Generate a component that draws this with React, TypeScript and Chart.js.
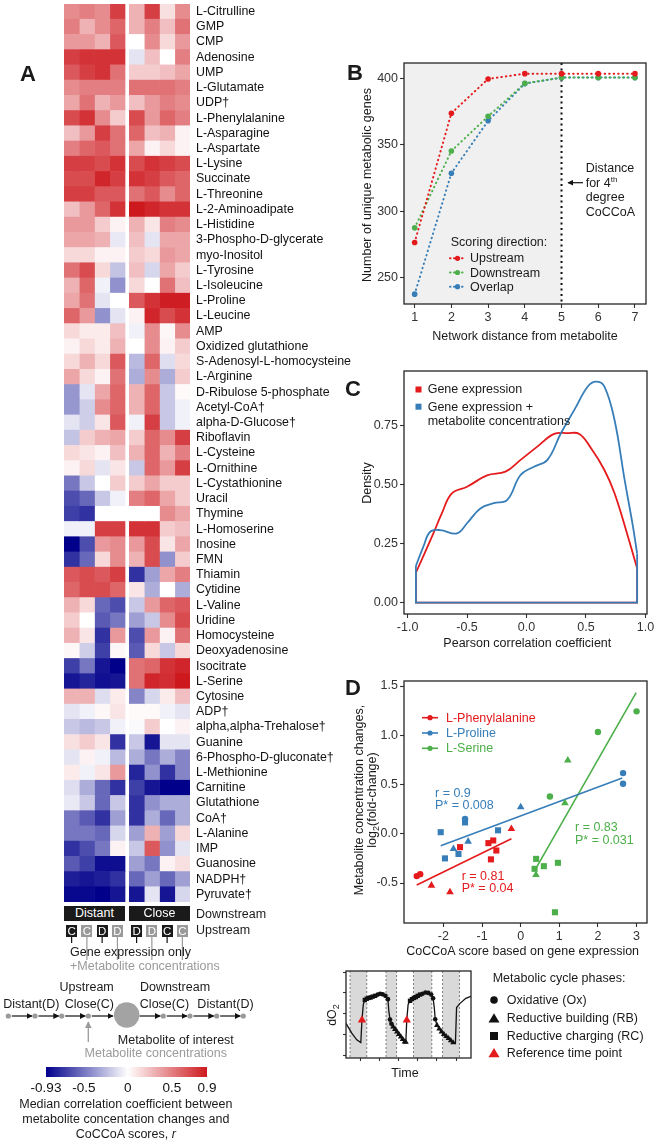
import React, { useEffect, useRef } from "react";
import { Chart, registerables } from "chart.js";

Chart.register(...registerables);

const FONT = "'Liberation Sans', Arial, Helvetica, sans-serif";
Chart.defaults.font.family = FONT;
Chart.defaults.color = "#1a1a1a";

const RED = "#e41a1c";
const BLUE = "#377eb8";
const GREEN = "#4daf4a";
const GRAY = "#9a9a9a";

// ---------------- Panel A: heatmap ----------------
const metabolites = [
  "L-Citrulline", "GMP", "CMP", "Adenosine", "UMP", "L-Glutamate", "UDP†", "L-Phenylalanine", "L-Asparagine", "L-Aspartate",
  "L-Lysine", "Succinate", "L-Threonine", "L-2-Aminoadipate", "L-Histidine", "3-Phospho-D-glycerate", "myo-Inositol", "L-Tyrosine", "L-Isoleucine", "L-Proline",
  "L-Leucine", "AMP", "Oxidized glutathione", "S-Adenosyl-L-homocysteine", "L-Arginine", "D-Ribulose 5-phosphate", "Acetyl-CoA†", "alpha-D-Glucose†", "Riboflavin", "L-Cysteine",
  "L-Ornithine", "L-Cystathionine", "Uracil", "Thymine", "L-Homoserine", "Inosine", "FMN", "Thiamin", "Cytidine", "L-Valine",
  "Uridine", "Homocysteine", "Deoxyadenosine", "Isocitrate", "L-Serine", "Cytosine", "ADP†", "alpha,alpha-Trehalose†", "Guanine", "6-Phospho-D-gluconate†",
  "L-Methionine", "Carnitine", "Glutathione", "CoA†", "L-Alanine", "IMP", "Guanosine", "NADPH†", "Pyruvate†",
];

// Downstream distant / upstream close, gene expression only ... etc.
const distC_gene = [.45,.5,.4,.75,.65,.45,.35,.7,.25,.5, .75,.7,.75,.25,.4,.35,.15,.55,.3,.35, .6,.15,.05,.15,.35,-.38,-.38,-.1,-.22,.15, .05,-.5,-.65,-.7,-.05,-.93,-.75,.65,.6,.3, .2,.3,.03,-.7,-.85,.3,-.1,-.2,.12,-.1, .08,-.12,-.08,-.5,-.5,-.75,-.6,-.82,-.9];
const distC_met = [.5,.3,.4,.8,.75,.5,.55,.8,.4,.6, .75,.7,.75,.4,.4,.35,.15,.7,.6,.55, .4,.08,.15,.3,.15,-.1,-.18,-.18,.2,.1, .15,-.2,-.55,-.75,-.05,-.65,-.55,.7,.7,.15, 0,.1,-.18,-.5,-.8,.3,-.05,-.25,.2,.05, -.05,-.3,-.2,-.6,-.5,-.65,-.7,-.85,-.9];
const distD_gene = [.45,.45,.3,.8,.8,.5,.3,.45,.75,.65, .7,.85,.65,.6,.2,.3,.05,.15,-.05,-.1, -.4,.08,.08,.15,.05,.35,.45,.1,.3,.05, -.1,0,-.2,null,.75,.4,.15,.65,.7,-.55, -.6,-.75,-.7,-.85,-.87,-.12,.03,-.2,.1,-.05, .1,-.55,-.55,-.75,-.55,-.5,-.88,-.82,-.93];
const distD_met = [.75,.6,.65,.8,.55,.5,.4,.2,.55,.55, .8,.75,.65,.8,.05,-.08,.05,-.22,-.4,0, -.1,.25,.3,.65,.55,.6,.6,.65,.35,.25, .1,.2,-.05,null,.75,.45,.45,.75,.6,-.65, -.5,.4,.03,-.93,-.85,.08,.1,-.05,-.75,-.25, .4,-.75,-.2,-.35,-.15,.05,-.88,-.75,-.85];
const closeD_gene = [.3,.3,0,-.1,.2,.55,.25,.7,.6,.35, .7,.8,.55,.9,.3,.25,.2,.25,.15,.65, .05,-.05,0,-.25,-.3,.3,.3,-.05,.2,.3, -.2,.2,.5,null,.8,.4,.3,-.75,.1,-.2, -.35,-.65,-.6,.55,.55,-.45,.02,-.02,-.2,-.3, -.8,-.7,-.75,-.75,-.35,-.2,-.35,-.55,-.85];
const closeD_met = [.75,.5,.45,.25,.2,.55,.4,.4,.25,.05, .8,.75,.65,.85,.1,-.1,.15,-.15,0,.8, .85,.45,.45,.6,.45,.6,.6,.75,.6,.6, .6,.35,.6,null,.8,.7,.7,-.35,-.3,.4, -.2,.4,.15,.6,.85,-.15,.02,.2,-.85,-.5, -.4,-.85,-.4,-.3,.3,.65,-.5,-.35,-.1];
const closeC_gene = [.12,.25,.15,0,.25,.55,.5,.6,.3,.15, .75,.65,.45,.8,.5,.35,.4,.35,.55,.88, .7,.03,.05,-.12,-.3,-.2,-.2,-.2,.45,.3, .4,.2,.35,.45,.2,.1,-.4,.35,0,.6, .45,.05,-.2,.8,.82,.08,-.05,0,-.1,-.3, -.75,-.93,-.3,-.55,-.35,-.4,.05,-.55,-.85];
const closeC_met = [.45,.55,.4,.5,.35,.5,.45,.5,.05,.05, .7,.6,.6,.8,.45,.35,.35,.2,.25,.88, .8,.45,.2,.15,.2,.02,-.05,-.05,.75,.5, .75,.2,.2,.35,.25,.35,.2,.5,-.3,.65, .7,.55,.15,.85,.9,.25,-.1,.05,-.1,-.45, -.45,-.93,-.3,-.3,.15,-.1,.12,-.35,-.15];

const downstreamGroups = ["Distant", "Close"];
const upstreamCodes = ["C", "C", "D", "D", "D", "D", "C", "C"];
const upstreamIsGeneOnly = [true, false, true, false, true, false, true, false];

const colorbarMin = -0.93;
const colorbarMax = 0.9;
const colorbarTicks = [-0.93, -0.5, 0, 0.5, 0.9];

// ---------------- Panel B ----------------
const distances = [1, 2, 3, 4, 5, 6, 7];
const upstreamGenes = [276.5, 373.7, 399.5, 403.5, 403.5, 403.5, 403.5];
const downstreamGenes = [287.5, 345.3, 371.4, 396.2, 400.5, 400.5, 400.5];
const overlapGenes = [237.6, 328.6, 368.0, 396.0, 400.5, 400.5, 400.5];
const bYTicks = [250, 300, 350, 400];
const cocoaDistance = 5;

// ---------------- Panel C ----------------
const geneX = [-0.93, -0.783, -0.712, -0.628, -0.5, -0.332, -0.177, -0.05, 0.091, 0.232, 0.345, 0.444, 0.543, 0.655, 0.74, 0.853, 0.93];
const geneY = [0.127, 0.294, 0.379, 0.464, 0.492, 0.54, 0.556, 0.606, 0.662, 0.716, 0.719, 0.716, 0.655, 0.563, 0.464, 0.28, 0.146];
const geneMetX = [-0.93, -0.867, -0.81, -0.726, -0.585, -0.5, -0.388, -0.275, -0.162, -0.05, 0.063, 0.176, 0.289, 0.402, 0.515, 0.585, 0.655, 0.74, 0.825, 0.895, 0.93];
const geneMetY = [0.156, 0.238, 0.301, 0.308, 0.294, 0.337, 0.4, 0.422, 0.436, 0.542, 0.577, 0.606, 0.719, 0.818, 0.917, 0.938, 0.917, 0.775, 0.521, 0.323, 0.209];
const cXTicks = [-1, -0.5, 0, 0.5, 1];
const cYTicks = [0, 0.25, 0.5, 0.75];

// ---------------- Panel D ----------------
const pheX = [-2.69, -2.6, -2.31, -1.83, -0.24, -1.57, -0.835, -0.71, -0.63, -0.77];
const pheY = [-0.43, -0.41, -0.525, -0.593, 0.05, -0.136, -0.095, -0.068, -0.17, -0.26];
const pheShape = ["circle", "circle", "triangle", "triangle", "triangle", "rect", "rect", "rect", "rect", "rect"];
const proX = [-2.07, -1.96, -1.61, -0.586, -1.44, -1.44, -1.74, -1.36, 0.0, 2.65, 2.65];
const proY = [0.016, -0.25, -0.205, 0.035, 0.115, 0.15, -0.153, -0.078, 0.27, 0.616, 0.508];
const proShape = ["rect", "rect", "rect", "rect", "rect", "circle", "triangle", "triangle", "triangle", "circle", "circle"];
const serX = [0.757, 2.0, 3.0, 1.22, 1.145, 0.396, 0.4, 0.36, 0.6, 0.964, 0.887];
const serY = [0.379, 1.033, 1.243, 0.745, 0.311, -0.417, -0.255, -0.356, -0.329, -0.295, -0.797];
const serShape = ["circle", "circle", "circle", "triangle", "triangle", "triangle", "rect", "rect", "rect", "rect", "rect"];
const pheFitX = [-2.69, -0.24];
const pheFitY = [-0.52, -0.05];
const proFitX = [-2.07, 2.63];
const proFitY = [-0.122, 0.565];
const serFitX = [0.388, 2.99];
const serFitY = [-0.356, 1.433];
const dXTicks = [-2, -1, 0, 1, 2, 3];
const dYTicks = [-0.5, 0, 0.5, 1, 1.5];

// ---------------- Inset: dO2 trace ----------------
const insetTime = [0.27, 0.57, 0.83, 1.04, 1.1, 1.17, 1.25, 1.35, 1.45, 1.55, 1.65, 1.78, 1.92, 2.05, 2.18, 2.32, 2.45, 2.5, 2.56, 2.63, 2.72, 2.82, 2.92, 3.02, 3.12, 3.22, 3.32, 3.38, 3.43, 3.5, 3.6, 3.7, 3.8, 3.9, 4.0, 4.12, 4.25, 4.4, 4.55, 4.7, 4.8, 4.86, 4.91, 5.0, 5.12, 5.24, 5.36, 5.48, 5.6, 5.72, 5.84, 5.96, 6.02, 6.2, 6.5, 6.77];
const insetDO2 = [1.54, 1.07, 0.75, 0.62, 1.7, 2.45, 2.66, 2.72, 2.76, 2.78, 2.82, 2.86, 2.92, 2.96, 2.93, 2.86, 2.7, 2.1, 1.72, 1.52, 1.38, 1.26, 1.14, 1.02, 0.9, 0.78, 0.66, 0.64, 1.7, 2.45, 2.62, 2.7, 2.76, 2.8, 2.86, 2.92, 2.96, 3.02, 3.0, 2.92, 2.74, 2.3, 1.74, 1.45, 1.28, 1.14, 1.02, 0.92, 0.82, 0.72, 0.62, 0.58, 2.3, 2.5, 2.74, 2.84];
const insetPhase = ["", "", "", "", "", "", "RC", "RC", "RC", "RC", "RC", "RC", "Ox", "Ox", "Ox", "Ox", "Ox", "", "Ox", "Ox", "RB", "RB", "RB", "RB", "RB", "RB", "RB", "RB", "", "", "RC", "RC", "RC", "RC", "RC", "RC", "Ox", "Ox", "Ox", "Ox", "Ox", "", "Ox", "RB", "RB", "RB", "RB", "RB", "RB", "RB", "RB", "", "", "", "", ""];
const insetRefTime = [1.1, 3.43];
const insetRefDO2 = [1.7, 1.7];
const insetBandStarts = [0.48, 2.35, 3.78, 5.29];
const insetBandEnds = [1.35, 2.9, 4.73, 6.17];
const insetXTicks = [1, 2, 3, 4, 5, 6];
const insetYTicks = [0, 1, 2, 3, 4];

// ---------------- helpers ----------------
function heatColor(v: number | null): string {
  if (v === null || v === undefined) return "rgb(255,255,255)";
  if (v >= 0) {
    const t = Math.min(v / colorbarMax, 1);
    return `rgb(${Math.round(255 - 50 * t)},${Math.round(255 - 230 * t)},${Math.round(255 - 225 * t)})`;
  }
  const t = Math.min(v / colorbarMin, 1);
  return `rgb(${Math.round(255 - 255 * t)},${Math.round(255 - 255 * t)},${Math.round(255 - 116 * t)})`;
}

const zeroPad = (s: any) => {
  s.paddingTop = 0; s.paddingBottom = 0; s.paddingLeft = 0; s.paddingRight = 0;
};

function linAxis(position: string, min: number, max: number, ticks: number[], fmt: (v: number) => string, size: number, tickLength = 4, fontSize = 12.5) {
  const horizontal = position === "bottom";
  return {
    type: "linear", position, min, max,
    afterBuildTicks: (s: any) => { s.ticks = ticks.map((v) => ({ value: v })); },
    afterFit: (s: any) => { if (horizontal) s.height = size; else s.width = size; zeroPad(s); },
    grid: { display: true, drawOnChartArea: false, drawTicks: true, tickLength, tickWidth: 1.1, tickColor: "#333", color: "#333" },
    border: { display: false },
    ticks: { callback: (v: any) => fmt(Number(v)), font: { size: fontSize }, color: "#333", padding: 2, maxRotation: 0, minRotation: 0, autoSkip: false },
  };
}

const baseOptions = (extra: any) => ({
  animation: false, responsive: false, maintainAspectRatio: false, devicePixelRatio: 1, events: [],
  plugins: { legend: { display: false }, tooltip: { enabled: false }, title: { display: false } },
  ...extra,
});

const framePlugin = {
  id: "frame",
  afterDatasetsDraw(chart: any) {
    const { ctx, chartArea: a } = chart;
    ctx.save();
    ctx.strokeStyle = "#262626";
    ctx.lineWidth = 1.3;
    ctx.strokeRect(a.left, a.top, a.right - a.left, a.bottom - a.top);
    ctx.restore();
  },
};

function ChartCanvas({ left, top, width, height, make }: any) {
  const ref = useRef<HTMLCanvasElement>(null);
  useEffect(() => {
    const chart = new Chart(ref.current as HTMLCanvasElement, make());
    return () => chart.destroy();
  }, []);
  return <canvas ref={ref} width={width} height={height} style={{ position: "absolute", left, top, width, height }} />;
}

// ---------------- chart configs ----------------
const HEAT_GAP = 0.26;
const heatColumns: (Array<number | null> | null)[] = [distC_gene, distC_met, distD_gene, distD_met, null, closeD_gene, closeD_met, closeC_gene, closeC_met];

const makeHeatmap = () => ({
  type: "bar",
  data: {
    labels: metabolites,
    datasets: heatColumns.map((col) =>
      col
        ? { data: metabolites.map(() => 1), backgroundColor: col.map(heatColor), borderWidth: 0, barPercentage: 1, categoryPercentage: 1 }
        : { data: metabolites.map(() => HEAT_GAP), backgroundColor: "#ffffff", borderWidth: 0, barPercentage: 1, categoryPercentage: 1, inflateAmount: 0 }
    ),
  },
  options: baseOptions({
    indexAxis: "y",
    layout: { padding: 0 },
    scales: {
      x: { type: "linear", stacked: true, display: false, min: 0, max: 8 + HEAT_GAP },
      y: {
        type: "category", stacked: true, position: "right",
        grid: { display: false, drawTicks: false }, border: { display: false },
        ticks: { autoSkip: false, padding: 6, font: { size: 12.4 }, color: "#111" },
        afterFit: (s: any) => { s.width = 210; zeroPad(s); },
      },
    },
  }),
});

const makeColorbar = () => ({
  type: "bar",
  data: {
    labels: ["r"],
    datasets: [{
      data: [[colorbarMin, colorbarMax]],
      barPercentage: 1, categoryPercentage: 1, borderWidth: 0,
      backgroundColor: (c: any) => {
        const ch = c.chart;
        if (!ch.chartArea) return "#ffffff";
        const xs = ch.scales.x;
        const g = ch.ctx.createLinearGradient(xs.getPixelForValue(colorbarMin), 0, xs.getPixelForValue(colorbarMax), 0);
        colorbarTicks.forEach((v) => g.addColorStop((v - colorbarMin) / (colorbarMax - colorbarMin), heatColor(v)));
        return g;
      },
    }],
  },
  options: baseOptions({
    indexAxis: "y",
    layout: { padding: { left: 26, right: 28, top: 7, bottom: 0 } },
    scales: {
      x: {
        type: "linear", min: colorbarMin, max: colorbarMax,
        afterBuildTicks: (s: any) => { s.ticks = colorbarTicks.map((v) => ({ value: v })); },
        afterFit: (s: any) => { s.height = 25; zeroPad(s); },
        grid: { display: false, drawTicks: false }, border: { display: false },
        ticks: { callback: (v: any) => String(v), font: { size: 13.5 }, color: "#111", padding: 3, maxRotation: 0, autoSkip: false },
      },
      y: { display: false },
    },
  }),
});

const bShadePlugin = {
  id: "bShade",
  beforeDatasetsDraw(chart: any) {
    const { ctx, chartArea: a, scales: { x } } = chart;
    const px = x.getPixelForValue(cocoaDistance);
    ctx.save();
    ctx.fillStyle = "#eff0ef";
    ctx.fillRect(a.left, a.top, px - a.left, a.bottom - a.top);
    ctx.strokeStyle = "#111";
    ctx.lineWidth = 2;
    ctx.setLineDash([2, 3.5]);
    ctx.beginPath();
    ctx.moveTo(px, a.top);
    ctx.lineTo(px, a.bottom);
    ctx.stroke();
    ctx.restore();
  },
};

const dottedSeries = (ys: number[], color: string) => ({
  data: distances.map((d, i) => ({ x: d, y: ys[i] })),
  showLine: true, borderColor: color, backgroundColor: color, borderWidth: 2,
  borderDash: [0.5, 4], borderCapStyle: "round", pointRadius: 2.8, pointBorderWidth: 0,
});

const makeB = () => ({
  type: "scatter",
  data: { datasets: [dottedSeries(upstreamGenes, RED), dottedSeries(downstreamGenes, GREEN), dottedSeries(overlapGenes, BLUE)] },
  options: baseOptions({
    layout: { padding: { top: 13, right: 11, left: 0, bottom: 0 } },
    scales: {
      x: linAxis("bottom", 0.71, 7.3, distances, (v) => String(v), 36),
      y: linAxis("left", 230.2, 411.5, bYTicks, (v) => String(v), 74),
    },
  }),
  plugins: [bShadePlugin, framePlugin],
});

const curve = (xs: number[], ys: number[], color: string) => ({
  data: xs.map((x, i) => ({ x, y: ys[i] })),
  showLine: true, borderColor: color, borderWidth: 1.8, tension: 0.4, pointRadius: 0,
});
const outline = (xs: number[], ys: number[], color: string) => ({
  data: [
    { x: xs[0], y: ys[0] }, { x: xs[0], y: 0 },
    { x: xs[xs.length - 1], y: 0 }, { x: xs[xs.length - 1], y: ys[ys.length - 1] },
  ],
  showLine: true, borderColor: color, borderWidth: 1.8, tension: 0, pointRadius: 0,
});

const makeC = () => ({
  type: "scatter",
  data: {
    datasets: [
      outline(geneMetX, geneMetY, BLUE), curve(geneMetX, geneMetY, BLUE),
      outline(geneX, geneY, RED), curve(geneX, geneY, RED),
    ],
  },
  options: baseOptions({
    layout: { padding: { top: 11, right: 10, left: 0, bottom: 0 } },
    scales: {
      x: linAxis("bottom", -1.03, 1.013, cXTicks, (v) => v.toFixed(1), 26),
      y: linAxis("left", -0.048, 0.983, cYTicks, (v) => v.toFixed(2), 74),
    },
  }),
  plugins: [framePlugin],
});

const shapeRadius: Record<string, number> = { circle: 3.2, rect: 4.3, triangle: 4.4 };
const pointsSet = (xs: number[], ys: number[], shapes: string[], color: string) => ({
  data: xs.map((x, i) => ({ x, y: ys[i] })),
  showLine: false, pointStyle: shapes, pointRadius: shapes.map((s) => shapeRadius[s]),
  pointBackgroundColor: color, pointBorderWidth: 0, borderColor: color,
});
const fitLine = (xs: number[], ys: number[], color: string) => ({
  data: xs.map((x, i) => ({ x, y: ys[i] })),
  showLine: true, borderColor: color, borderWidth: 1.6, pointRadius: 0,
});

const makeD = () => ({
  type: "scatter",
  data: {
    datasets: [
      pointsSet(pheX, pheY, pheShape, RED), pointsSet(proX, proY, proShape, BLUE), pointsSet(serX, serY, serShape, GREEN),
      fitLine(pheFitX, pheFitY, RED), fitLine(proFitX, proFitY, BLUE), fitLine(serFitX, serFitY, GREEN),
    ],
  },
  options: baseOptions({
    layout: { padding: { top: 11, right: 10, left: 0, bottom: 0 } },
    scales: {
      x: linAxis("bottom", -3.02, 3.27, dXTicks, (v) => String(v), 22),
      y: linAxis("left", -0.906, 1.551, dYTicks, (v) => v.toFixed(1), 74),
    },
  }),
  plugins: [framePlugin],
});

const insetBandPlugin = {
  id: "insetBands",
  beforeDatasetsDraw(chart: any) {
    const { ctx, chartArea: a, scales: { x } } = chart;
    ctx.save();
    insetBandStarts.forEach((s, i) => {
      const x0 = x.getPixelForValue(s);
      const x1 = x.getPixelForValue(insetBandEnds[i]);
      ctx.fillStyle = "#d9d9d9";
      ctx.fillRect(x0, a.top, x1 - x0, a.bottom - a.top);
    });
    ctx.strokeStyle = "#808080";
    ctx.lineWidth = 1;
    ctx.setLineDash([2, 2]);
    insetBandStarts.concat(insetBandEnds).forEach((v) => {
      const px = x.getPixelForValue(v);
      ctx.beginPath();
      ctx.moveTo(px, a.top);
      ctx.lineTo(px, a.bottom);
      ctx.stroke();
    });
    ctx.restore();
  },
};

const phaseStyle: Record<string, string> = { Ox: "circle", RB: "triangle", RC: "rect", "": "circle" };
const phaseRadius: Record<string, number> = { Ox: 2.3, RB: 3.4, RC: 3.1, "": 0 };

const makeInset = () => ({
  type: "scatter",
  data: {
    datasets: [
      {
        data: insetRefTime.map((t, i) => ({ x: t, y: insetRefDO2[i] })),
        showLine: false, pointStyle: "triangle", pointRadius: 4.8, pointBackgroundColor: RED, pointBorderWidth: 0,
      },
      {
        data: insetTime.map((t, i) => ({ x: t, y: insetDO2[i] })),
        showLine: true, borderColor: "#111", borderWidth: 1.3, tension: 0,
        pointStyle: insetPhase.map((p) => phaseStyle[p]), pointRadius: insetPhase.map((p) => phaseRadius[p]),
        pointBackgroundColor: "#111", pointBorderWidth: 0,
      },
    ],
  },
  options: baseOptions({
    layout: { padding: { top: 6, right: 9, left: 0, bottom: 0 } },
    scales: {
      x: linAxis("bottom", 0.27, 6.77, insetXTicks, () => "", 7, 3),
      y: linAxis("left", -0.12, 4.05, insetYTicks, () => "", 11, 3),
    },
  }),
  plugins: [insetBandPlugin, framePlugin],
});

// ---------------- HTML text ----------------
function Txt({ x, y, children, size = 12.5, color = "#1a1a1a", align = "left", rotate = false, weight = 400 }: any) {
  const tx = align === "center" ? "-50%" : align === "right" ? "-100%" : "0";
  return (
    <div style={{
      position: "absolute", left: x, top: y, transform: `translate(${tx}, -50%)${rotate ? " rotate(-90deg)" : ""}`,
      fontSize: size, color, fontWeight: weight, whiteSpace: "nowrap", lineHeight: 1.15,
    }}>{children}</div>
  );
}

// column centers for the heatmap annotation row
const cellW = 126 / (8 + HEAT_GAP);
const colCenter = (i: number) => 64 + (i + 0.5 + (i >= 4 ? HEAT_GAP : 0)) * cellW;

export default function App() {
  const leftDots = [8.3, 35, 61.7, 88.3];
  const rightDots = [163.3, 190, 216.7, 243.3];
  return (
    <div style={{ position: "absolute", left: 0, top: 0, width: 657, height: 1145, background: "#fff", fontFamily: FONT, color: "#1a1a1a", overflow: "hidden" }}>
      <ChartCanvas left={64} top={4} width={336} height={898} make={makeHeatmap} />
      <ChartCanvas left={20} top={1060} width={215} height={42} make={makeColorbar} />
      <ChartCanvas left={330} top={50} width={327} height={290} make={makeB} />
      <ChartCanvas left={330} top={360} width={327} height={280} make={makeC} />
      <ChartCanvas left={330} top={670} width={327} height={275} make={makeD} />
      <ChartCanvas left={335} top={965} width={145} height={100} make={makeInset} />

      <svg width={657} height={1145} style={{ position: "absolute", left: 0, top: 0 }}>
        <defs>
          <marker id="ahB" viewBox="0 0 10 10" refX="9" refY="5" markerWidth="6" markerHeight="6" markerUnits="userSpaceOnUse" orient="auto">
            <path d="M0,0 L10,5 L0,10 z" fill="#111" />
          </marker>
          <marker id="ahG" viewBox="0 0 10 10" refX="9" refY="5" markerWidth="7" markerHeight="7" markerUnits="userSpaceOnUse" orient="auto">
            <path d="M0,0 L10,5 L0,10 z" fill={GRAY} />
          </marker>
        </defs>
        {upstreamIsGeneOnly.map((g, i) => (
          <line key={"t" + i} x1={colCenter(i)} x2={colCenter(i)} y1={937} y2={g ? 943 : 960} stroke={g ? "#111" : GRAY} strokeWidth={1.2} />
        ))}
        {leftDots.concat(rightDots).map((x, i) => <circle key={"d" + i} cx={x} cy={1016} r={2.6} fill={GRAY} />)}
        {leftDots.map((x, i) => (
          <line key={"la" + i} x1={x + 3.5} x2={i < 3 ? leftDots[i + 1] - 3 : 113} y1={1016} y2={1016} stroke="#111" strokeWidth={1.2} markerEnd="url(#ahB)" />
        ))}
        {[139.5].concat(rightDots.slice(0, 3).map((x) => x + 3.5)).map((x1, i) => (
          <line key={"ra" + i} x1={x1} x2={rightDots[i] - 3} y1={1016} y2={1016} stroke="#111" strokeWidth={1.2} markerEnd="url(#ahB)" />
        ))}
        <circle cx={126.7} cy={1015} r={12.8} fill="#a3a3a3" />
        <line x1={88.3} x2={88.3} y1={1042} y2={1022} stroke={GRAY} strokeWidth={1.3} markerEnd="url(#ahG)" />
        <line x1={583} x2={568} y1={182.7} y2={182.7} stroke="#111" strokeWidth={1.2} markerEnd="url(#ahB)" />
        {[RED, GREEN, BLUE].map((c, i) => (
          <g key={"bl" + i}>
            <line x1={450} x2={466} y1={258.3 + i * 14.2} y2={258.3 + i * 14.2} stroke={c} strokeWidth={2} strokeDasharray="0.5 3.5" strokeLinecap="round" />
            <circle cx={457.5} cy={258.3 + i * 14.2} r={2.6} fill={c} />
          </g>
        ))}
        <rect x={415.5} y={386.5} width={6} height={6} fill={RED} />
        <rect x={415.5} y={403.7} width={6} height={6} fill={BLUE} />
        {[RED, BLUE, GREEN].map((c, i) => (
          <g key={"dl" + i}>
            <line x1={422} x2={438} y1={717.7 + i * 15.3} y2={717.7 + i * 15.3} stroke={c} strokeWidth={1.6} />
            <circle cx={430} cy={717.7 + i * 15.3} r={2.6} fill={c} />
          </g>
        ))}
        <circle cx={494} cy={1000} r={3.8} fill="#111" />
        <path d="M494,1013.3 L499.5,1022.6 L488.5,1022.6 Z" fill="#111" />
        <rect x={490} y={1032} width={8} height={8} fill="#111" />
        <path d="M494,1048 L499.5,1057.3 L488.5,1057.3 Z" fill={RED} />
      </svg>

      {/* Panel A annotations */}
      <Txt x={20} y={74} size={22} weight={700}>A</Txt>
      {downstreamGroups.map((g, i) => (
        <div key={g} style={{
          position: "absolute", left: i === 0 ? 64 : 64 + (4 + HEAT_GAP) * cellW, top: 906, width: 4 * cellW, height: 15,
          background: "#1a1a1a", color: "#fff", fontSize: 12.5, lineHeight: "15px", textAlign: "center",
        }}>{g}</div>
      ))}
      {upstreamCodes.map((c, i) => (
        <div key={"u" + i} style={{
          position: "absolute", left: colCenter(i) - 5.5, top: 924.5, width: 11, height: 12,
          background: upstreamIsGeneOnly[i] ? "#1a1a1a" : GRAY, color: "#fff", fontSize: 11.5, lineHeight: "12px", textAlign: "center",
        }}>{c}</div>
      ))}
      <Txt x={196} y={914}>Downstream</Txt>
      <Txt x={196} y={930}>Upstream</Txt>
      <Txt x={70} y={951.7}>Gene expression only</Txt>
      <Txt x={70} y={966} color={GRAY}>+Metabolite concentrations</Txt>
      <Txt x={86.7} y={987.3} align="center">Upstream</Txt>
      <Txt x={175} y={987.3} align="center">Downstream</Txt>
      <Txt x={31.3} y={1004} align="center">Distant(D)</Txt>
      <Txt x={89.3} y={1004} align="center">Close(C)</Txt>
      <Txt x={164.5} y={1004} align="center">Close(C)</Txt>
      <Txt x={225.5} y={1004} align="center">Distant(D)</Txt>
      <Txt x={175.8} y={1040} align="center">Metabolite of interest</Txt>
      <Txt x={155.8} y={1053.3} align="center" color={GRAY}>Metabolite concentrations</Txt>
      <Txt x={125.8} y={1104.3} align="center">Median correlation coefficient between</Txt>
      <Txt x={125.8} y={1119.3} align="center">metabolite concentation changes and</Txt>
      <Txt x={125.8} y={1134} align="center">CoCCoA scores, <i>r</i></Txt>

      {/* Panel B */}
      <Txt x={347} y={73} size={22} weight={700}>B</Txt>
      <Txt x={367} y={185} align="center" rotate>Number of unique metabolic genes</Txt>
      <Txt x={525} y={336} align="center">Network distance from metabolite</Txt>
      <Txt x={585.7} y={168.3}>Distance</Txt>
      <Txt x={585.7} y={182.7}>for 4<sup style={{ fontSize: 8 }}>th</sup></Txt>
      <Txt x={585.7} y={197.3}>degree</Txt>
      <Txt x={585.7} y={211.7}>CoCCoA</Txt>
      <Txt x={450.7} y={241.7}>Scoring direction:</Txt>
      <Txt x={470} y={258.3}>Upstream</Txt>
      <Txt x={470} y={272.5}>Downstream</Txt>
      <Txt x={470} y={286.7}>Overlap</Txt>

      {/* Panel C */}
      <Txt x={345} y={389} size={22} weight={700}>C</Txt>
      <Txt x={427.7} y={389.3}>Gene expression</Txt>
      <Txt x={427.7} y={406.7}>Gene expression +</Txt>
      <Txt x={427.7} y={421}>metabolite concentrations</Txt>
      <Txt x={366.7} y={483.3} align="center" rotate>Density</Txt>
      <Txt x={527.3} y={642.7} align="center">Pearson correlation coefficient</Txt>

      {/* Panel D */}
      <Txt x={345} y={688} size={22} weight={700}>D</Txt>
      <Txt x={446} y={717.7} color={RED}>L-Phenylalanine</Txt>
      <Txt x={446} y={733} color={BLUE}>L-Proline</Txt>
      <Txt x={446} y={748.3} color={GREEN}>L-Serine</Txt>
      <Txt x={435} y={792.7} color={BLUE}>r =  0.9</Txt>
      <Txt x={435} y={805} color={BLUE}>P* =  0.008</Txt>
      <Txt x={461.7} y={875.7} color={RED}>r =  0.81</Txt>
      <Txt x={461.7} y={887.7} color={RED}>P* =  0.04</Txt>
      <Txt x={575} y={827.3} color={GREEN}>r =  0.83</Txt>
      <Txt x={575} y={840} color={GREEN}>P* =  0.031</Txt>
      <Txt x={359.3} y={800} align="center" rotate>Metabolite concentration changes,</Txt>
      <Txt x={373.3} y={800} align="center" rotate>log<sub style={{ fontSize: 9 }}>2</sub>(fold-change)</Txt>
      <Txt x={522.7} y={950.7} align="center">CoCCoA score based on gene expression</Txt>

      {/* Inset */}
      <Txt x={333} y={1015} align="center" rotate>dO<sub style={{ fontSize: 9 }}>2</sub></Txt>
      <Txt x={405} y={1073} align="center">Time</Txt>
      <Txt x={492.7} y={978.3}>Metabolic cycle phases:</Txt>
      <Txt x={506.7} y={1000}>Oxidative (Ox)</Txt>
      <Txt x={506.7} y={1018.3}>Reductive building (RB)</Txt>
      <Txt x={506.7} y={1036}>Reductive charging (RC)</Txt>
      <Txt x={506.7} y={1052.7}>Reference time point</Txt>
    </div>
  );
}
